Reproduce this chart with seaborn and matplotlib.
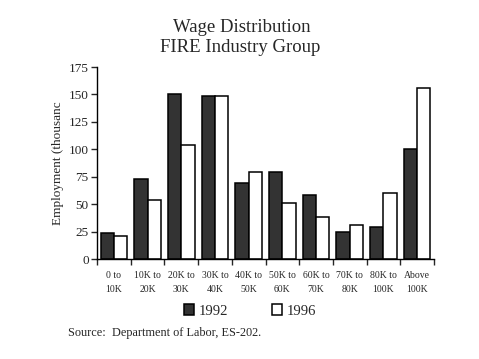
import seaborn as sns
import matplotlib.pyplot as plt
import pandas as pd

# wage brackets and employment (thousands)
brackets = ['0 to\n10K', '10K to\n20K', '20K to\n30K', '30K to\n40K', '40K to\n50K',
            '50K to\n60K', '60K to\n70K', '70K to\n80K', '80K to\n100K', 'Above\n100K']
emp_1992 = [24, 73, 150, 149, 69, 79, 58, 25, 29, 100]
emp_1996 = [21, 54, 104, 149, 79, 51, 38, 31, 60, 156]
years = ['1992', '1996']

df = pd.DataFrame({
    'bracket': brackets * 2,
    'year': [years[0]] * len(brackets) + [years[1]] * len(brackets),
    'emp': emp_1992 + emp_1996,
})

sns.set_style('white')
plt.rcParams['font.family'] = ['Liberation Serif', 'DejaVu Serif']

fig = plt.figure(figsize=(4.79, 3.59), dpi=100)
ax = fig.add_axes([97 / 479, 100 / 359, 337 / 479, 192 / 359])

sns.barplot(data=df, x='bracket', y='emp', hue='year', order=brackets,
            palette={'1992': '#333333', '1996': 'white'},
            edgecolor='black', linewidth=1.1, width=0.79, saturation=1,
            legend=True, ax=ax)

ax.set_ylim(0, 175)
ax.set_xlim(-0.5, len(brackets) - 0.5)
ax.set_yticks(range(0, 176, 25))
ax.tick_params(axis='y', labelsize=9.5, length=4, width=1, direction='out', left=True, pad=2)
ax.tick_params(axis='x', labelsize=7, length=0, pad=9)
for lbl in ax.get_xticklabels():
    lbl.set_linespacing(1.6)
ax.set_xticks([i - 0.5 for i in range(len(brackets) + 1)], minor=True)
ax.tick_params(axis='x', which='minor', length=4, width=1, direction='out', bottom=True)
ax.set_xlabel('')
ax.set_ylabel('Employment (thousanc', fontsize=9.5, labelpad=3)
for s in ['top', 'right']:
    ax.spines[s].set_visible(False)
for s in ['left', 'bottom']:
    ax.spines[s].set_color('black')
    ax.spines[s].set_linewidth(1)

handles, labels = ax.get_legend_handles_labels()
ax.get_legend().remove()
fig.legend(handles, labels, loc='center', bbox_to_anchor=(250 / 479, 1 - 311 / 359),
           ncol=2, frameon=False, fontsize=10.5, handlelength=0.7, handleheight=0.7,
           handletextpad=0.3, columnspacing=3.0)

fig.text(242 / 479, 1 - 27 / 359, 'Wage Distribution', ha='center', va='center', fontsize=13.5)
fig.text(240 / 479, 1 - 47 / 359, 'FIRE Industry Group', ha='center', va='center', fontsize=13.5)
fig.text(68 / 479, 1 - 333 / 359, 'Source:  Department of Labor, ES-202.', ha='left',
         va='center', fontsize=8.8)

fig.savefig('out.png', dpi=100)
